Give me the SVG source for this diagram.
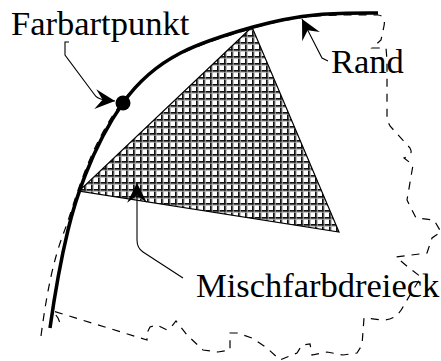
<svg xmlns="http://www.w3.org/2000/svg" width="441" height="361" viewBox="0 0 441 361">
<style>
.lbl{font-family:"Liberation Serif","Times New Roman",serif;font-size:34.5px;fill:#000}
.lead{fill:none;stroke:#000;stroke-width:1.1}
.dash{fill:none;stroke:#000;stroke-width:1.2;stroke-dasharray:8 7}
</style>
<defs>
<pattern id="grid" patternUnits="userSpaceOnUse" width="7" height="7">
<rect width="7" height="7" fill="#fff"/>
<rect x="0" y="0" width="1.8" height="7" fill="#111"/>
<rect x="0" y="0" width="7" height="1.8" fill="#111"/>
<rect x="1.8" y="0" width="0.9" height="7" fill="#aaa"/>
<rect x="0" y="1.8" width="7" height="0.9" fill="#aaa"/>
</pattern>
<marker id="arr" markerUnits="userSpaceOnUse" markerWidth="24" markerHeight="24" viewBox="-21 -11 23 22" refX="0" refY="0" orient="auto">
<path d="M0,0 L-19,-9.5 L-12,0 L-19,9.5 Z" fill="#000"/>
</marker>
</defs>
<g id="outline">
<path class="dash" d="M41,336 C47,290 54,258 64,232 S86,152 120,105 S197,45 250,29 S335,15 378,15 Q386,16 384,26 L381,40 L372,48 L386,48 L387,60 L387,120 L390,126 L410,148 Q414,155 404,158 L413,165 L407,200 L416,218 L434,220 L441,232 L432,238 L427,253 L396,257 L408,267 L421,277 L404,305 Q397,320 383,320 L364,318 L362,345 L357,353 L343,355 L327,352 L312,355 L310,344 L302,345 L297,353 L280,360 L267,348 L252,338 L237,333 L230,333 L230,350 L218,352 L203,350 L187,335 L176,321 L172,326 L167,330 L157,325 L150,327 L147,333 L147,340 L53,311 L58,318 L60,323"/>
</g>
<g id="triangle">
<path d="M252,27 L79,191 L339,232 Z" fill="url(#grid)" stroke="#000" stroke-width="1.2"/>
</g>
<g id="rand">
<path d="M50,328 C56,285 62,255 68,230 S90,150 123,103 S200,42 253,27 S340,13 378,13" fill="none" stroke="#000" stroke-width="3.5"/>
</g>
<g id="farbartpunkt">
<circle cx="123" cy="103" r="7.5" fill="#000"/>
</g>
<g id="connectors">
<path class="lead" d="M69,42 L65,42 L65,55 L94,94 Q97,99 105,100 L115,101" marker-end="url(#arr)"/>
<path class="lead" d="M328,61 L322,58 L302,19" marker-end="url(#arr)"/>
<path class="lead" d="M183,278 L143,252 Q137,248 137,240 L137,183" marker-end="url(#arr)"/>
</g>
<g id="labels">
<text class="lbl" x="11" y="35">Farbartpunkt</text>
<text class="lbl" x="331" y="73">Rand</text>
<text class="lbl" x="196" y="297">Mischfarbdreieck</text>
</g>
</svg>
